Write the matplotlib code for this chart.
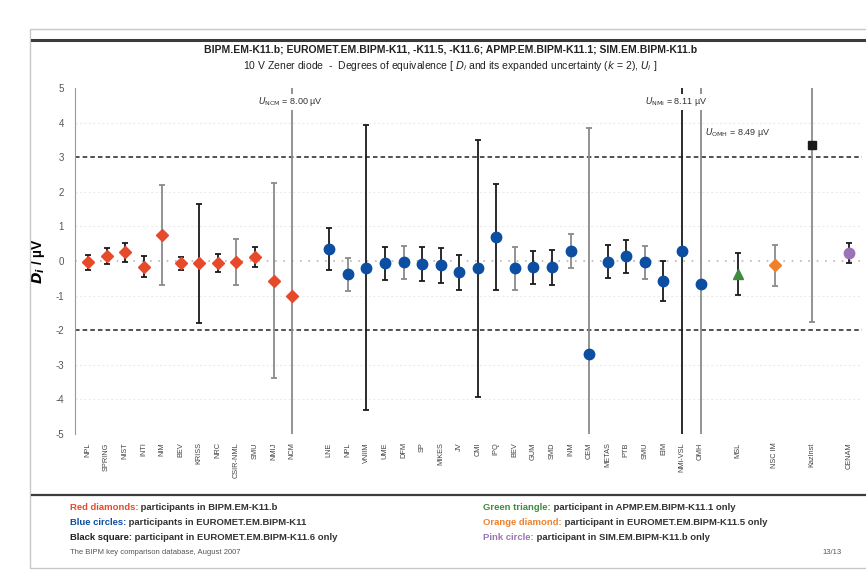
import numpy as np
import matplotlib.pyplot as plt
from matplotlib.lines import Line2D
from matplotlib.patches import Rectangle

plt.rcParams['font.family'] = ['Liberation Sans', 'DejaVu Sans']
plt.rcParams['axes.unicode_minus'] = False

# BIPM.EM-K11.b participants (red diamonds)
red_labels = ["NPL", "SPRING", "NIST", "INTI", "NIM", "BEV", "KRISS", "NRC",
              "CSIR-NML", "SMU", "NMIJ", "NCM"]
red_D = [-0.04, 0.14, 0.25, -0.16, 0.75, -0.07, -0.07, -0.07, -0.02, 0.12, -0.57, -1.00]
red_U = [0.22, 0.23, 0.27, 0.30, 1.45, 0.20, 1.72, 0.26, 0.67, 0.29, 2.82, 8.00]

# EUROMET.EM.BIPM-K11 participants (blue circles)
blue_labels = ["LNE", "NPL", "VNIIM", "UME", "DFM", "SP", "MIKES", "JV", "CMI", "IPQ",
               "BEV", "GUM", "SMD", "INM", "CEM", "METAS", "PTB", "SMU", "EIM",
               "NMi-VSL", "OMH"]
blue_D = [0.34, -0.38, -0.20, -0.07, -0.04, -0.09, -0.13, -0.33, -0.21, 0.70, -0.21,
          -0.18, -0.18, 0.30, -2.70, -0.02, 0.14, -0.04, -0.57, 0.29, -0.67]
blue_U = [0.60, 0.48, 4.12, 0.48, 0.48, 0.50, 0.51, 0.50, 3.71, 1.53, 0.62, 0.48,
          0.50, 0.49, 6.53, 0.48, 0.48, 0.48, 0.58, 8.11, 8.49]

# single-comparison participants
green_label, green_D, green_U = "MSL", -0.38, 0.60      # APMP.EM.BIPM-K11.1
orange_label, orange_D, orange_U = "NSC IM", -0.13, 0.58  # EUROMET.EM.BIPM-K11.5
black_label, black_D, black_U = "KazInst", 3.35, 5.10   # EUROMET.EM.BIPM-K11.6
pink_label, pink_D, pink_U = "CENAM", 0.22, 0.29        # SIM.EM.BIPM-K11.b

# uncertainty bars drawn in grey (others black)
red_grey = [False, False, False, False, True, False, False, False, True, False, True, True]
blue_grey = [False, True, False, False, True, False, False, False, False, False, True,
             False, False, True, True, False, False, True, False, False, True]

RED = '#e64a2b'
BLUE = '#0b4ea2'
GREEN = '#3d8c40'
ORANGE = '#f0812c'
PINK = '#9a74b4'
GREY = '#8a8a8a'

fig = plt.figure(figsize=(8.66, 5.71), dpi=100)

# page frame
fig.add_artist(Rectangle((30 / 866, 0.005), 1.0, 0.945, transform=fig.transFigure,
                         fill=False, ec='#c8c8c8', lw=1))
fig.add_artist(Line2D([32 / 866, 1], [1 - 40 / 571] * 2, color='#3c3c3c', lw=2.2))
fig.add_artist(Line2D([32 / 866, 1], [1 - 495 / 571] * 2, color='#3c3c3c', lw=1.6))

ax = fig.add_axes([75 / 866, 1 - 434 / 571, 787 / 866, 346 / 571])

# x slots: reds, gap, blues, then the singles with gaps between them
x_red = np.arange(len(red_D))
x_blue = np.arange(len(blue_D)) + len(red_D) + 1
x_green = x_blue[-1] + 2
x_orange = x_green + 2
x_black = x_orange + 2
x_pink = x_black + 2


def draw(x, d, u, color, marker, ms, grey):
    bar = GREY if grey else '#1a1a1a'
    eb = ax.errorbar(x, d, yerr=u, fmt='none', ecolor=bar, elinewidth=1.3,
                     capsize=2.5, capthick=1.3, zorder=2)
    for c in eb[1]:
        c.set_color('#1a1a1a')
    ax.plot(x, d, marker=marker, color=color, ms=ms, ls='none', mec=color, zorder=3)


for x, d, u, g in zip(x_red, red_D, red_U, red_grey):
    draw(x, d, u, RED, 'D', 6, g)
for x, d, u, g in zip(x_blue, blue_D, blue_U, blue_grey):
    draw(x, d, u, BLUE, 'o', 7.5, g)
draw(x_green, green_D, green_U, GREEN, '^', 7.5, False)
draw(x_orange, orange_D, orange_U, ORANGE, 'D', 6, True)
draw(x_black, black_D, black_U, '#1a1a1a', 's', 5.5, True)
draw(x_pink, pink_D, pink_U, PINK, 'o', 7.5, False)

# reference lines
ax.axhline(0, color='#b8b8b8', ls=(0, (1, 4)), lw=1.2, zorder=1)
for yy in [4, 2, 1, -1, -3, -4]:
    ax.axhline(yy, color='#ececec', ls=(0, (2, 2)), lw=0.8, zorder=0)
ax.axhline(3, color='#222222', ls=(0, (3, 2)), lw=1.1, zorder=1)
ax.axhline(-2, color='#222222', ls=(0, (3, 2)), lw=1.1, zorder=1)

ax.set_xlim(-0.7, x_pink + 0.7)
ax.set_ylim(-5, 5)
ax.set_yticks(range(-5, 6))
ax.tick_params(axis='y', labelsize=7, colors='#555555', length=0, pad=8)
ax.tick_params(axis='x', length=0, pad=6)

ticks = list(x_red) + list(x_blue) + [x_green, x_orange, x_black, x_pink]
labels = red_labels + blue_labels + [green_label, orange_label, black_label, pink_label]
ax.set_xticks(ticks)
ax.set_xticklabels(labels, rotation=90, fontsize=5.3, color='#444444')

for s in ['top', 'right', 'bottom']:
    ax.spines[s].set_visible(False)
ax.spines['left'].set_color('#9a9a9a')

ax.set_ylabel(r'$\mathbfit{D_i}$ / µV', fontsize=10, fontweight='bold', labelpad=6)

# off-scale uncertainties
box = dict(fc='white', ec='none', pad=1)
ax.text(x_red[-1] - 0.1, 4.6, r'$U_{\mathrm{NCM}}$ = 8.00 µV', ha='center', va='center',
        fontsize=6.5, color='#333333', bbox=box, zorder=4)
ax.text(x_blue[-2] - 0.3, 4.6, r'$U_{\mathrm{NMi}}$ = 8.11 µV', ha='center', va='center',
        fontsize=6.5, color='#333333', bbox=box, zorder=4)
ax.text(x_blue[-1] + 0.25, 3.7, r'$U_{\mathrm{OMH}}$ = 8.49 µV', ha='left', va='center',
        fontsize=6.5, color='#333333', zorder=4)

# titles
fig.text(0.52, 1 - 50 / 571, "BIPM.EM-K11.b; EUROMET.EM.BIPM-K11, -K11.5, -K11.6; "
         "APMP.EM.BIPM-K11.1; SIM.EM.BIPM-K11.b", ha='center', va='center',
         fontsize=7.5, fontweight='bold', color='#222222')
fig.text(0.52, 1 - 66 / 571, r"10 V Zener diode  -  Degrees of equivalence [ $D_i$ "
         r"and its expanded uncertainty ($k$ = 2), $U_i$ ]", ha='center', va='center',
         fontsize=7.5, color='#222222')

# key
key = [
    (70, 510, "Red diamonds:", RED, " participants in BIPM.EM-K11.b"),
    (70, 525, "Blue circles:", BLUE, " participants in EUROMET.EM.BIPM-K11"),
    (70, 540, "Black square:", '#222222', " participant in EUROMET.EM.BIPM-K11.6 only"),
    (483, 510, "Green triangle:", GREEN, " participant in APMP.EM.BIPM-K11.1 only"),
    (483, 525, "Orange diamond:", ORANGE, " participant in EUROMET.EM.BIPM-K11.5 only"),
    (483, 540, "Pink circle:", PINK, " participant in SIM.EM.BIPM-K11.b only"),
]
for px, py, head, col, rest in key:
    t = fig.text(px / 866, 1 - py / 571, head, color=col, fontsize=6.8,
                 fontweight='bold', va='baseline')
    fig.add_artist(plt.Annotation(rest, xy=(1, 0), xycoords=t, va='bottom',
                                  fontsize=6.8, fontweight='bold', color='#333333',
                                  annotation_clip=False))

fig.text(70 / 866, 1 - 553 / 571, "The BIPM key comparison database, August 2007",
         fontsize=5.5, color='#555555', va='center')
fig.text(822 / 866, 1 - 553 / 571, "13/13", fontsize=5.5, color='#555555', va='center')

fig.savefig('out.png', dpi=100)
